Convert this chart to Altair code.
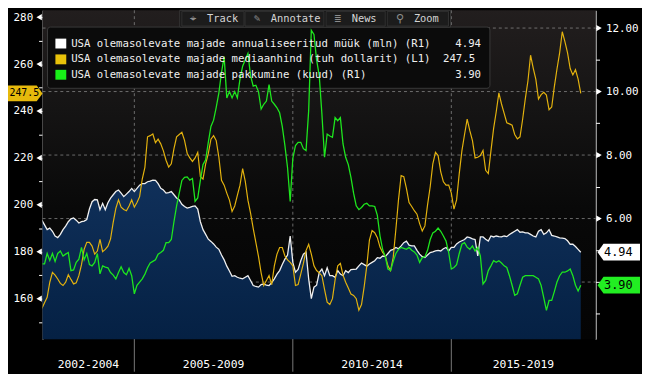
import altair as alt
import pandas as pd

# ---------------- data (monthly, Jan 2002 .. Jan 2019) ----------------
start_year = 2002

sales_mln = [
    5.95, 5.80, 5.65, 5.70, 5.60, 5.45, 5.40, 5.50, 5.65, 5.76, 5.90, 5.99,
    6.02, 5.95, 5.86, 5.90, 5.92, 5.97, 6.30, 6.53, 6.60, 6.59, 6.28, 6.48,
    6.28, 6.50, 6.64, 6.75, 6.85, 6.90, 6.80, 6.69, 6.77, 6.85, 6.95, 6.85,
    6.95, 7.05, 7.10, 7.10, 7.16, 7.18, 7.21, 7.20, 7.10, 6.95, 6.90, 6.80,
    6.82, 6.85, 6.75, 6.65, 6.59, 6.45, 6.38, 6.33, 6.35, 6.38, 6.40, 6.30,
    5.90, 5.65, 5.50, 5.35, 5.28, 5.20, 5.10, 5.03, 4.85, 4.70, 4.50, 4.35,
    4.18, 4.20, 4.15, 4.12, 4.10, 4.15, 4.20, 4.05, 3.89, 3.86, 3.84, 3.92,
    3.94, 3.90, 3.89, 3.98, 4.10, 4.25, 4.36, 4.55, 4.72, 4.85, 5.45, 4.62,
    4.31, 4.40, 4.67, 4.88, 4.94, 4.10, 3.48, 3.84, 3.90, 4.30, 4.41, 4.20,
    4.45, 4.20, 4.20, 4.15, 4.36, 4.25, 4.20, 4.36, 4.30, 4.39, 4.40, 4.41,
    4.51, 4.60, 4.55, 4.50, 4.57, 4.62, 4.67, 4.77, 4.75, 4.82, 4.80, 4.90,
    5.00, 5.03, 5.09, 5.05, 5.14, 5.24, 5.29, 5.16, 5.14, 5.14, 5.00, 4.88,
    4.80, 4.77, 4.85, 4.93, 4.95, 4.98, 5.00, 4.98, 5.05, 5.09, 4.98, 5.09,
    5.09, 5.20, 5.26, 5.30, 5.34, 5.42, 5.40, 5.36, 5.34, 4.82, 5.42, 5.42,
    5.35, 5.29, 5.45, 5.42, 5.45, 5.43, 5.42, 5.45, 5.43, 5.50, 5.55, 5.60,
    5.65, 5.57, 5.58, 5.55, 5.55, 5.50, 5.45, 5.42, 5.60, 5.65, 5.50, 5.55,
    5.65, 5.47, 5.45, 5.42, 5.39, 5.38, 5.37, 5.30, 5.19, 5.19, 5.12, 5.03,
    4.94,
]

median_price_k = [
    155.8, 158.3, 160.6, 167.0, 171.2, 170.0, 168.4, 166.5, 165.6, 167.0, 170.2, 168.2,
    166.3, 166.8, 169.8, 174.5, 181.0, 184.0, 184.0, 182.4, 179.0, 180.3, 185.3, 180.0,
    181.0, 182.4, 185.5, 192.5, 198.5, 202.1, 199.0, 198.0, 197.5, 199.5, 202.1, 199.0,
    201.0, 203.5, 211.0, 216.0, 229.0, 229.5, 230.2, 226.5, 228.0, 226.0, 223.0, 219.0,
    216.1, 217.5, 224.0, 229.0, 230.0, 230.9, 227.5, 222.0, 220.0, 218.5, 220.0, 222.4,
    212.0, 211.0, 217.5, 221.8, 228.0, 229.5, 227.4, 220.3, 210.5, 208.4, 205.0, 202.0,
    197.2, 199.5, 204.0, 208.4, 215.4, 210.0, 202.0, 196.5, 190.0, 184.0, 178.0, 171.0,
    165.6, 167.7, 169.8, 166.0, 174.0, 179.0, 181.8, 181.8, 178.2, 176.5, 175.5, 174.0,
    165.6, 166.0, 170.5, 175.0, 180.5, 183.2, 179.0, 174.0, 172.0, 171.0, 169.8, 164.0,
    158.5, 157.5, 160.0, 168.0, 174.0, 175.0, 170.0, 167.0, 164.5, 162.0, 161.4, 160.0,
    155.1, 157.5, 165.0, 174.0, 185.0, 189.0, 188.1, 186.0, 182.0, 179.7, 178.2, 174.0,
    172.0, 177.6, 189.5, 202.1, 212.5, 212.0, 207.0, 201.0, 199.3, 197.5, 196.0, 192.0,
    188.8, 191.0, 200.0, 207.7, 217.5, 222.4, 221.0, 214.0, 209.8, 208.4, 208.4, 205.0,
    198.2, 202.1, 213.3, 223.0, 230.0, 236.5, 231.6, 227.4, 220.0, 220.3, 221.0, 223.2,
    214.7, 213.3, 223.0, 232.5, 239.7, 247.7, 243.0, 239.0, 235.0, 234.5, 234.0, 230.0,
    228.1, 229.0, 236.5, 245.2, 252.8, 263.8, 258.3, 253.5, 245.1, 247.0, 248.0, 246.8,
    240.5, 241.7, 250.4, 257.9, 264.8, 273.8, 269.6, 264.8, 258.1, 255.4, 257.6, 253.6,
    247.5,
]

months_supply = [
    4.57, 4.57, 4.90, 4.68, 4.90, 4.65, 4.90, 4.98, 4.82, 4.88, 4.93, 4.36,
    4.38, 4.62, 4.72, 5.09, 4.70, 4.90, 4.55, 4.51, 4.62, 4.90, 4.26, 4.51,
    4.47, 4.45, 4.30, 4.22, 4.10, 4.30, 4.48, 4.30, 4.23, 4.43, 4.20, 3.63,
    3.90, 4.00, 4.10, 4.25, 4.45, 4.60, 4.65, 4.70, 4.88, 4.93, 5.00, 5.24,
    5.24, 5.34, 5.90, 6.40, 6.80, 7.20, 7.30, 7.31, 7.21, 7.26, 6.54, 6.65,
    7.20, 7.70, 7.85, 8.40, 8.90, 9.10, 9.50, 9.96, 10.60, 11.10, 9.80, 10.00,
    9.80, 10.00, 9.80, 10.40, 10.80, 11.00, 11.20, 10.50, 10.17, 10.20, 10.00, 9.45,
    9.60, 9.70, 10.22, 9.70, 9.60, 9.49, 9.33, 8.90, 8.30, 7.60, 6.54, 7.90,
    8.30, 8.40, 8.40, 8.20, 8.14, 9.40, 11.93, 11.80, 11.00, 10.50, 9.30, 7.93,
    8.66, 8.60, 8.56, 9.18, 9.08, 9.18, 8.35, 7.93, 7.70, 7.30, 6.80, 6.40,
    6.28, 6.35, 6.45, 6.48, 6.40, 6.40, 6.38, 6.10, 5.45, 5.03, 4.80, 4.41,
    4.36, 4.65, 4.90, 5.03, 5.09, 5.06, 5.03, 5.09, 5.00, 4.95, 4.85, 4.62,
    4.77, 4.80, 5.00, 5.34, 5.55, 5.60, 5.70, 5.60, 5.45, 5.29, 4.93, 4.41,
    4.46, 4.55, 4.90, 5.19, 5.24, 5.10, 5.03, 5.14, 4.98, 5.09, 4.82, 3.94,
    4.05, 4.36, 4.51, 4.67, 4.62, 4.67, 4.60, 4.51, 4.46, 4.20, 3.90, 3.58,
    3.63, 3.90, 4.15, 4.20, 4.20, 4.20, 4.20, 4.15, 4.10, 3.89, 3.50, 3.11,
    3.42, 3.42, 3.70, 4.00, 4.20, 4.31, 4.31, 4.35, 4.41, 4.20, 3.90, 3.72,
    3.90,
]

series_names = [
    "USA olemasolevate majade annualiseeritud müük (mln) (R1)",
    "USA olemasolevate majade mediaanhind (tuh dollarit) (L1)",
    "USA olemasolevate majade pakkumine (kuud) (R1)",
]
period_labels = ["2002-2004", "2005-2009", "2010-2014", "2015-2019"]
period_edges = [2002, 2005, 2010, 2015, 2020]
left_ticks = list(range(150, 290, 10))
left_labeled = list(range(160, 290, 20))
right_ticks = list(range(3, 13))
right_labeled = [6, 8, 10, 12]
year_ticks = list(range(2003, 2020))
toolbar_items = [("\u2316", "Track"), ("\u270e", "Annotate"), ("\u2263", "News"), ("\u26b2", "Zoom")]

# ---------------- layout / styles ----------------
W, H = 560, 333
XD = [2002.105, 2019.551]
PD = [142.74, 282.95]
RD = [2.202, 12.56]
FONT = "DejaVu Sans Mono"
WHITE = "#f0f0f0"
GOLD = "#e3b20e"
GREEN = "#1ee61e"

n = len(sales_mln)
df = pd.DataFrame({
    "t": [start_year + (k + 1) / 12 for k in range(n)],
    "sales": sales_mln,
    "price": median_price_k,
    "inv": months_supply,
})

xs = alt.Scale(domain=XD, nice=False, zero=False)
ps = alt.Scale(domain=PD, nice=False, zero=False)
rs = alt.Scale(domain=RD, nice=False, zero=False)
one = pd.DataFrame({"a": [0]})


def box(x0, x1, y0, y1, **kw):
    return alt.Chart(one).mark_rect(**kw).encode(
        x=alt.value(x0), x2=alt.value(x1), y=alt.value(y0), y2=alt.value(y1))


def label(x, y, s, **kw):
    return alt.Chart(one).mark_text(text=s, font=FONT, baseline="middle", **kw).encode(
        x=alt.value(x), y=alt.value(y))


def grad(stops):
    return alt.LinearGradient(
        gradient="linear", x1=0, x2=0, y1=0, y2=1,
        stops=[alt.GradientStop(color=c, offset=o) for o, c in stops])


layers = []

# plot background
layers.append(box(0, W, 0, H, fill=grad([(0, "#221e1e"), (0.3, "#151414"), (0.6, "#090909"), (1, "#040404")])))

# dashed grid
layers.append(
    alt.Chart(pd.DataFrame({"v": [4, 6, 8, 10, 12]})).mark_rule(
        color="#8c8c8c", strokeDash=[3, 3], strokeWidth=1, opacity=0.75
    ).encode(y=alt.Y("v:Q", scale=rs, axis=None), x=alt.value(0), x2=alt.value(W))
)
layers.append(
    alt.Chart(pd.DataFrame({"v": period_edges[1:-1]})).mark_rule(
        color="#8c8c8c", strokeDash=[3, 3], strokeWidth=1, opacity=0.75
    ).encode(x=alt.X("v:Q", scale=xs, axis=None), y=alt.value(0), y2=alt.value(H))
)

# legend background
layers.append(box(5, 453, 17, 79, fill="#0b0b0b", stroke="#3a3a3a", strokeWidth=1, cornerRadius=3))

# sales area + line
x_axis = alt.Axis(orient="bottom", values=year_ticks, labels=False, tickSize=4,
                  tickColor="#ffffff", domainColor="#ffffff", domainWidth=1,
                  grid=False, title=None)
layers.append(
    alt.Chart(df).mark_area(fill=grad([(0, "#10305a"), (1, "#001a3a")]), clip=True).encode(
        x=alt.X("t:Q", scale=xs, axis=x_axis),
        y=alt.Y("sales:Q", scale=rs, axis=None),
        y2=alt.value(H),
    )
)
layers.append(
    alt.Chart(df).mark_line(color=WHITE, strokeWidth=1.3, clip=True).encode(
        x=alt.X("t:Q", scale=xs, axis=None),
        y=alt.Y("sales:Q", scale=rs, axis=None),
    )
)

# median price (left axis)
left_axis = alt.Axis(orient="left", values=left_ticks,
                     labelExpr="datum.value % 20 == 0 ? datum.label : ''",
                     tickSize=4, tickColor="#ffffff", domainColor="#ffffff",
                     labelColor="#ffffff", labelFont=FONT, labelFontSize=11,
                     labelPadding=6, labelOverlap=False, grid=False, title=None,
                     minExtent=35, maxExtent=35)
layers.append(
    alt.Chart(df).mark_line(color=GOLD, strokeWidth=1.2, clip=True).encode(
        x=alt.X("t:Q", scale=xs, axis=None),
        y=alt.Y("price:Q", scale=ps, axis=left_axis),
    )
)

# inventory (right axis)
right_axis = alt.Axis(orient="right", values=right_ticks,
                      labelExpr="datum.value >= 6 && datum.value % 2 == 0 ? format(datum.value, '.2f') : ''",
                      tickSize=4, tickColor="#ffffff", domainColor="#ffffff",
                      labelColor="#ffffff", labelFont=FONT, labelFontSize=11,
                      labelPadding=6, labelOverlap=False, grid=False, title=None,
                      minExtent=47, maxExtent=47)
layers.append(
    alt.Chart(df).mark_line(color=GREEN, strokeWidth=1.3, clip=True).encode(
        x=alt.X("t:Q", scale=xs, axis=None),
        y=alt.Y("inv:Q", scale=rs, axis=right_axis),
    )
)

# triangle tick markers
layers.append(
    alt.Chart(pd.DataFrame({"v": left_labeled})).mark_point(
        shape="triangle-left", filled=True, size=40, color="#ffffff", opacity=1
    ).encode(x=alt.value(-3.5), y=alt.Y("v:Q", scale=ps, axis=None))
)
layers.append(
    alt.Chart(pd.DataFrame({"v": right_labeled})).mark_point(
        shape="triangle-right", filled=True, size=40, color="#ffffff", opacity=1
    ).encode(x=alt.value(W + 3.5), y=alt.Y("v:Q", scale=rs, axis=None))
)

# legend rows
legend_colors = ["#ffffff", "#e8c20a", "#18f018"]
legend_vals = [f"{sales_mln[-1]:.2f}", f"{median_price_k[-1]:.1f}", f"{months_supply[-1]:.2f}"]
legend_val_x = [444, 438, 444]
for k, yc in enumerate([33.7, 49.7, 65.3]):
    layers.append(box(13, 24, yc - 5, yc + 5, fill=legend_colors[k]))
    layers.append(label(29, yc, series_names[k], align="left", fontSize=10.8, color=WHITE))
    layers.append(label(legend_val_x[k], yc, legend_vals[k], align="right", fontSize=10.8, color=WHITE))

# value tags
TAG_L = "M-1,0L-0.72,-0.395L1,-0.395L1,0.395L-0.72,0.395Z"
TAG_R = "M1,0L0.66,-0.457L-1,-0.457L-1,0.457L0.66,0.457Z"
for val, col, txt in [(sales_mln[-1], "#ffffff", legend_vals[0]),
                      (months_supply[-1], "#22ee22", legend_vals[2])]:
    tdf = pd.DataFrame({"v": [val], "lab": [txt]})
    layers.append(
        alt.Chart(tdf).mark_point(shape=TAG_L, size=43 * 43, filled=True, color=col,
                                  opacity=1, strokeWidth=0).encode(
            x=alt.value(W + 23.5), y=alt.Y("v:Q", scale=rs, axis=None))
    )
    layers.append(
        alt.Chart(tdf).mark_text(font=FONT, fontSize=12, color="#000000", align="center",
                                 baseline="middle").encode(
            x=alt.value(W + 23), y=alt.Y("v:Q", scale=rs, axis=None), text="lab:N")
    )
pdf = pd.DataFrame({"v": [median_price_k[-1]], "lab": [legend_vals[1]]})
layers.append(
    alt.Chart(pdf).mark_point(shape=TAG_R, size=35 * 35, filled=True, color="#e6b90c",
                              opacity=1, strokeWidth=0).encode(
        x=alt.value(-17.5), y=alt.Y("v:Q", scale=ps, axis=None))
)
layers.append(
    alt.Chart(pdf).mark_text(font=FONT, fontSize=10, color="#000000", align="center",
                             baseline="middle").encode(
        x=alt.value(-18.5), y=alt.Y("v:Q", scale=ps, axis=None), text="lab:N")
)

# toolbar
layers.append(box(139, 413, 0, 17, fill="#101010", stroke="#3a3a3a", strokeWidth=1))
btn_bounds = [(141, 204), (205, 285), (287, 347), (349, 411)]
icon_x = [152, 217.5, 299, 361.5]
text_x = [166.5, 231, 313, 376]
for (b0, b1), ix, tx, (ic, name) in zip(btn_bounds, icon_x, text_x, toolbar_items):
    layers.append(box(b0, b1, 1, 16, fill="#1c1c1c", stroke="#333333", strokeWidth=1))
    layers.append(label(ix, 8.5, ic, align="center", fontSize=11, color="#8c8c8c"))
    layers.append(label(tx, 8.5, name, align="left", fontSize=10.5, color="#d4d4d4"))

# period separators and labels below the axis
layers.append(
    alt.Chart(pd.DataFrame({"v": period_edges[1:-1]})).mark_rule(
        color="#7a7a7a", strokeWidth=1
    ).encode(x=alt.X("v:Q", scale=xs, axis=None), y=alt.value(H), y2=alt.value(H + 33))
)
centers = [(max(a, XD[0]) + min(b, XD[1])) / 2 for a, b in zip(period_edges[:-1], period_edges[1:])]
layers.append(
    alt.Chart(pd.DataFrame({"c": centers, "lab": period_labels})).mark_text(
        font=FONT, fontSize=11.5, color="#ffffff", baseline="middle", align="center"
    ).encode(x=alt.X("c:Q", scale=xs, axis=None), y=alt.value(H + 26), text="lab:N")
)

chart = (
    alt.layer(*layers)
    .resolve_scale(y="independent")
    .properties(
        width=W, height=H,
        autosize=alt.AutoSizeParams(type="none"),
        padding={"left": 35, "right": 47, "top": 0, "bottom": 33},
        background="#000000",
    )
    .configure_view(stroke=None)
)

chart.save("out.html", embed_options={"renderer": "svg", "actions": False})
